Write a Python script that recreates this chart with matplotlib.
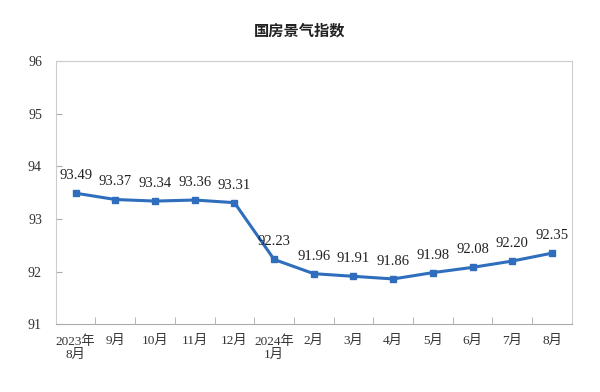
import matplotlib.pyplot as plt
import numpy as np

months = ['2023年\n8月', '9月', '10月', '11月', '12月', '2024年\n1月', '2月',
          '3月', '4月', '5月', '6月', '7月', '8月']
values = [93.49, 93.37, 93.34, 93.36, 93.31, 92.23, 91.96, 91.91, 91.86,
          91.98, 92.08, 92.20, 92.35]

plt.rcParams['font.family'] = ['Liberation Serif', 'Noto Sans CJK SC']

fig = plt.figure(figsize=(6, 3.92), dpi=100)
ax = fig.add_axes([0.093, 0.173, 0.86, 0.671])

x = np.arange(len(values))
ax.plot(x, values, color='#2f6dbd', lw=2.2, marker='s', ms=4)
for xi, v in zip(x, values):
    ax.annotate('%.2f' % v, (xi, v), xytext=(0, 8), textcoords='offset points',
                ha='center', va='bottom', fontsize=10.5, color='#222222')

ax.set_xlim(-0.5, len(values) - 0.5)
ax.set_ylim(91, 96)
ax.set_yticks([91, 92, 93, 94, 95, 96])
ax.set_xticks(x)
ax.set_xticklabels(months, fontsize=9.5, color='#333333', linespacing=1.1)
ax.set_xticks(np.arange(-0.5, len(values)), minor=True)
ax.tick_params(axis='x', which='major', length=0, pad=8)
ax.tick_params(axis='x', which='minor', direction='in', length=5, color='#aaaaaa')
ax.tick_params(axis='y', direction='in', length=4, color='#aaaaaa', labelsize=10,
               labelcolor='#333333', pad=10)
for s in ax.spines.values():
    s.set_color('#cccccc')
ax.spines['bottom'].set_color('#aaaaaa')

fig.text(0.5, 0.923, '国房景气指数', ha='center', va='center', fontsize=11,
         fontweight='bold', family='Noto Sans CJK SC', color='#222222')

fig.savefig('out.png', dpi=100)
